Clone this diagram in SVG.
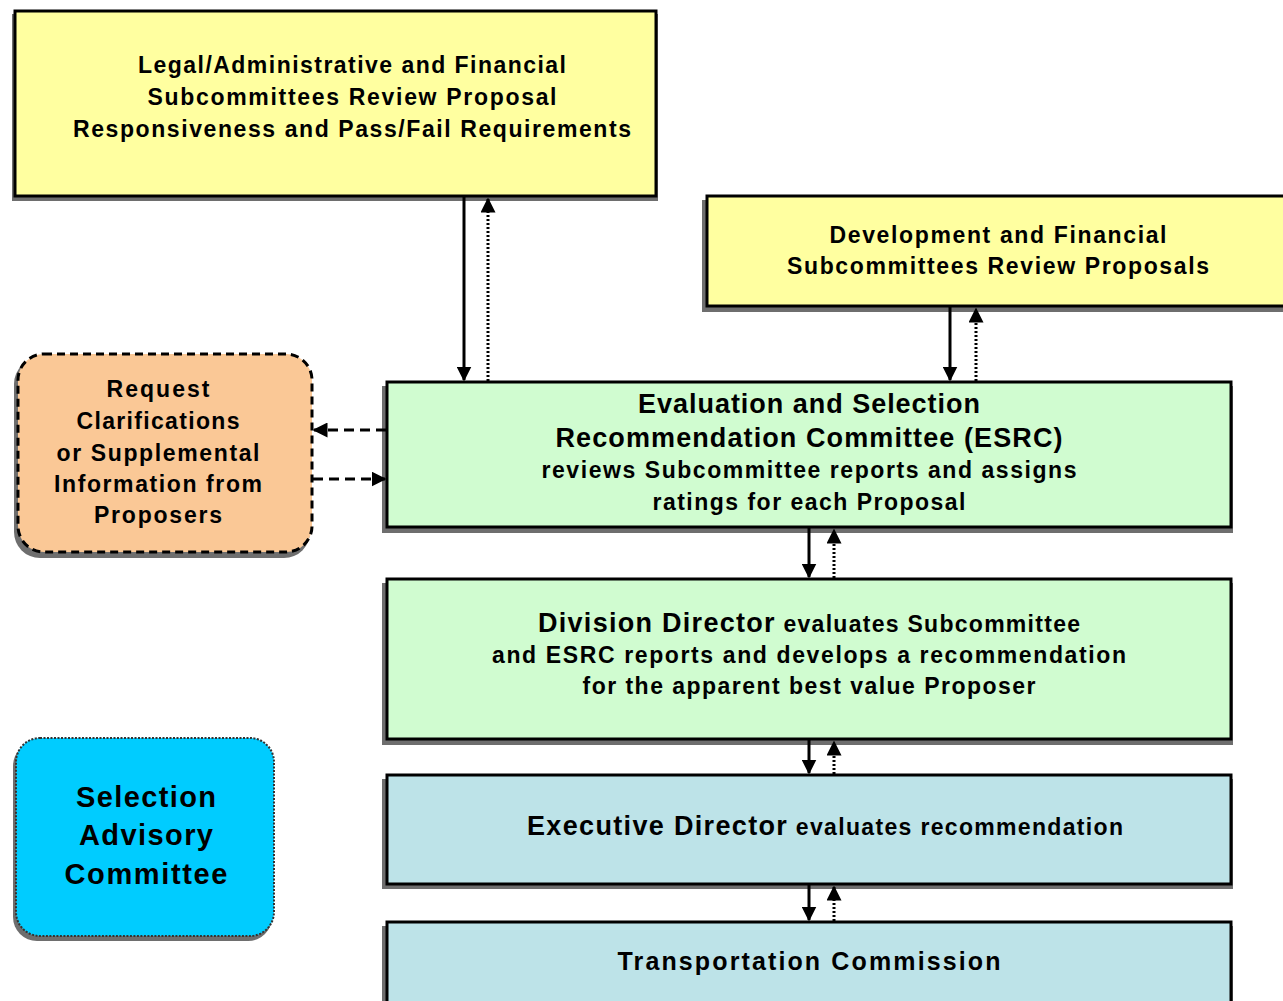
<svg xmlns="http://www.w3.org/2000/svg" width="1283" height="1001" viewBox="0 0 1283 1001">
<style>
.t{font-family:"Liberation Sans",Arial,sans-serif;font-weight:bold;fill:#000;text-anchor:middle}
.s{font-size:23px}
.b{font-size:27px}
.sh{fill:#6e6e6e}
.box{stroke:#000;stroke-width:3}
.solid{stroke:#000;stroke-width:3;fill:none}
.dot{stroke:#000;stroke-width:3;fill:none;stroke-dasharray:2 2}
.dash{stroke:#000;stroke-width:3;fill:none;stroke-dasharray:10 6}
</style>
<defs>
<marker id="ah" viewBox="0 0 10 10" refX="9" refY="5" markerWidth="5" markerHeight="5" orient="auto" markerUnits="strokeWidth">
<path d="M0,0 L10,5 L0,10 z" fill="#000"/>
</marker>
</defs>
<rect width="1283" height="1001" fill="#fff"/>

<g id="legal">
<rect class="sh" x="12" y="14" width="646" height="187"/>
<rect class="box" x="15" y="11" width="641" height="185" fill="#ffffa0"/>
<text class="t s" x="352" y="73" textLength="428">Legal/Administrative and Financial</text>
<text class="t s" x="352" y="105" textLength="409">Subcommittees Review Proposal</text>
<text class="t s" x="352" y="137" textLength="558">Responsiveness and Pass/Fail Requirements</text>
</g>

<g id="development">
<rect class="sh" x="702" y="200" width="590" height="112"/>
<rect class="box" x="707" y="196" width="585" height="110" fill="#ffffa0"/>
<text class="t s" x="998" y="243" textLength="337">Development and Financial</text>
<text class="t s" x="998" y="274" textLength="422">Subcommittees Review Proposals</text>
</g>

<g id="request">
<rect x="14" y="358" width="296" height="200" rx="26" fill="#6e6e6e"/>
<rect x="18" y="354" width="294" height="198" rx="26" style="fill:#fac896;stroke:#000;stroke-width:3;stroke-dasharray:8 5"/>
<text class="t s" x="158" y="397" textLength="103">Request</text>
<text class="t s" x="158" y="429" textLength="163">Clarifications</text>
<text class="t s" x="158" y="461" textLength="203">or Supplemental</text>
<text class="t s" x="158" y="492" textLength="208">Information from</text>
<text class="t s" x="158" y="523" textLength="128">Proposers</text>
</g>

<g id="esrc">
<rect class="sh" x="382" y="386" width="851" height="147"/>
<rect class="box" x="387" y="382" width="844" height="145" fill="#d0fcd0"/>
<text class="t b" x="809" y="413" textLength="342">Evaluation and Selection</text>
<text class="t b" x="809" y="447" textLength="507">Recommendation Committee (ESRC)</text>
<text class="t s" x="809" y="478" textLength="535">reviews Subcommittee reports and assigns</text>
<text class="t s" x="809" y="510" textLength="313">ratings for each Proposal</text>
</g>

<g id="division">
<rect class="sh" x="382" y="583" width="851" height="162"/>
<rect class="box" x="387" y="579" width="844" height="160" fill="#d0fcd0"/>
<text class="t" x="809" y="632" textLength="542"><tspan class="b">Division Director</tspan><tspan class="s"> evaluates Subcommittee</tspan></text>
<text class="t s" x="809" y="663" textLength="634">and ESRC reports and develops a recommendation</text>
<text class="t s" x="809" y="694" textLength="453">for the apparent best value Proposer</text>
</g>

<g id="sac">
<rect x="13" y="742" width="259" height="199" rx="24" fill="#6e6e6e"/>
<rect x="16" y="738" width="258" height="198" rx="24" fill="#00ccff" stroke="#333" stroke-width="2" stroke-dasharray="2 1.5"/>
<text class="t" style="font-size:29px" x="146" y="807" textLength="140">Selection</text>
<text class="t" style="font-size:29px" x="146" y="845" textLength="134">Advisory</text>
<text class="t" style="font-size:29px" x="146" y="884" textLength="163">Committee</text>
</g>

<g id="executive">
<rect class="sh" x="382" y="779" width="851" height="110"/>
<rect class="box" x="387" y="775" width="844" height="109" fill="#bde3e8"/>
<text class="t" x="825" y="835" textLength="596"><tspan class="b">Executive Director</tspan><tspan class="s"> evaluates recommendation</tspan></text>
</g>

<g id="commission">
<rect class="sh" x="382" y="926" width="851" height="80"/>
<rect class="box" x="387" y="922" width="844" height="85" fill="#bde3e8"/>
<text class="t" style="font-size:25px" x="809" y="970" textLength="383">Transportation Commission</text>
</g>

<g id="connectors">
<line class="solid" x1="464" y1="197" x2="464" y2="380" marker-end="url(#ah)"/>
<line class="dot" x1="488" y1="381" x2="488" y2="199" marker-end="url(#ah)"/>
<line class="solid" x1="950" y1="307" x2="950" y2="380" marker-end="url(#ah)"/>
<line class="dot" x1="976" y1="381" x2="976" y2="309" marker-end="url(#ah)"/>
<line class="solid" x1="809" y1="528" x2="809" y2="577" marker-end="url(#ah)"/>
<line class="dot" x1="834" y1="578" x2="834" y2="530" marker-end="url(#ah)"/>
<line class="solid" x1="809" y1="740" x2="809" y2="773" marker-end="url(#ah)"/>
<line class="dot" x1="834" y1="774" x2="834" y2="742" marker-end="url(#ah)"/>
<line class="solid" x1="809" y1="885" x2="809" y2="920" marker-end="url(#ah)"/>
<line class="dot" x1="834" y1="921" x2="834" y2="887" marker-end="url(#ah)"/>
<line class="dash" x1="386" y1="430" x2="314" y2="430" marker-end="url(#ah)"/>
<line class="dash" x1="313" y1="479" x2="385" y2="479" marker-end="url(#ah)"/>
</g>
</svg>
